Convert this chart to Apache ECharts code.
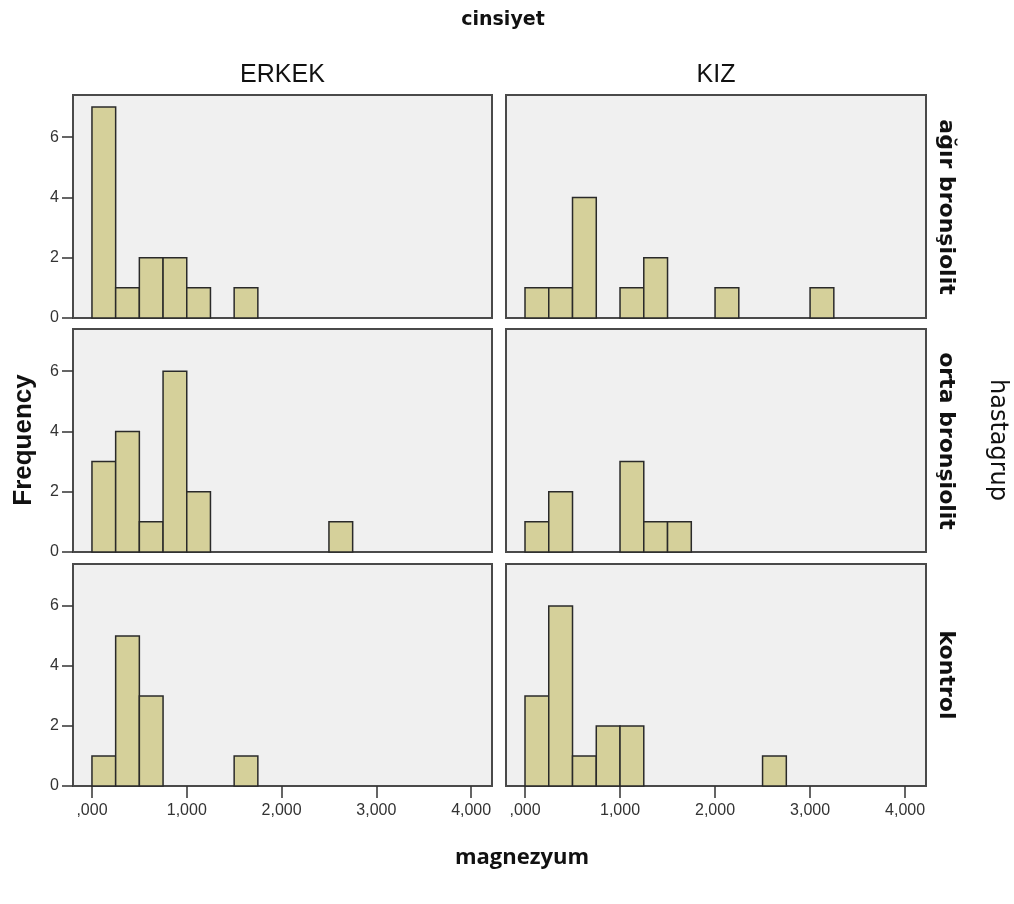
<!DOCTYPE html>
<html>
<head>
<meta charset="utf-8">
<script src="https://cdn.jsdelivr.net/npm/echarts@6/dist/echarts.min.js"></script>
<style>
html,body{margin:0;padding:0;background:#fff;}
#chart{width:1014px;height:904px;}
</style>
</head>
<body>
<div id="chart"></div>
<script>
// ---- data ----
const colCategories = ['ERKEK', 'KIZ'];
const rowCategories = ['ağır bronşiolit', 'orta bronşiolit', 'kontrol'];
const binWidth = 0.25;
const binStarts = [0, 0.25, 0.5, 0.75, 1.0, 1.25, 1.5, 1.75, 2.0, 2.25, 2.5, 2.75, 3.0];
const erkekAgir    = [7, 1, 2, 2, 1, 0, 1, 0, 0, 0, 0, 0, 0];
const kizAgir      = [1, 1, 4, 0, 1, 2, 0, 0, 1, 0, 0, 0, 1];
const erkekOrta    = [3, 4, 1, 6, 2, 0, 0, 0, 0, 0, 1, 0, 0];
const kizOrta      = [1, 2, 0, 0, 3, 1, 1, 0, 0, 0, 0, 0, 0];
const erkekKontrol = [1, 5, 3, 0, 0, 0, 1, 0, 0, 0, 0, 0, 0];
const kizKontrol   = [3, 6, 1, 2, 2, 0, 0, 0, 0, 0, 1, 0, 0];
const xTickValues = [0, 1, 2, 3, 4];
const xTickLabels = [',000', '1,000', '2,000', '3,000', '4,000'];
const yTickValues = [0, 2, 4, 6];

const panels = [
  [erkekAgir, kizAgir],
  [erkekOrta, kizOrta],
  [erkekKontrol, kizKontrol]
];

// ---- layout ----
const colLeft = [73, 506];
const colWidth = [419, 420];
const rowTop = [95, 329, 564];
const rowHeight = [223, 223, 222];

const grids = [], xAxes = [], yAxes = [], series = [];
const barFill = '#d5d09a';
const barStroke = '#2a2a2a';
const tickFont = '"Liberation Sans", Arial, sans-serif';

for (let r = 0; r < 3; r++) {
  for (let c = 0; c < 2; c++) {
    const idx = grids.length;
    grids.push({
      left: colLeft[c], top: rowTop[r], width: colWidth[c], height: rowHeight[r],
      show: true, backgroundColor: '#f0f0f0', borderColor: '#4a4a4a', borderWidth: 2
    });
    const isBottom = r === 2;
    xAxes.push({
      type: 'value', gridIndex: idx, min: -0.2, max: 4.22,
      splitLine: { show: false },
      axisLine: { show: false, onZero: false },
      axisTick: { show: isBottom, length: 12, customValues: xTickValues, lineStyle: { color: '#333', width: 1.5 } },
      axisLabel: {
        show: isBottom, customValues: xTickValues, margin: 17,
        fontFamily: tickFont, fontSize: 16, color: '#333',
        formatter: function (v) { const i = xTickValues.indexOf(v); return i >= 0 ? xTickLabels[i] : ''; }
      }
    });
    const isLeft = c === 0;
    yAxes.push({
      type: 'value', gridIndex: idx, min: 0, max: 7.4,
      splitLine: { show: false },
      axisLine: { show: false, onZero: false },
      axisTick: { show: isLeft, length: 11, customValues: yTickValues, lineStyle: { color: '#333', width: 1.5 } },
      axisLabel: {
        show: isLeft, customValues: yTickValues, margin: 14,
        fontFamily: tickFont, fontSize: 16, color: '#333'
      }
    });
    const counts = panels[r][c];
    const data = [];
    for (let i = 0; i < binStarts.length; i++) {
      if (counts[i] > 0) data.push([binStarts[i], counts[i]]);
    }
    series.push({
      type: 'custom', xAxisIndex: idx, yAxisIndex: idx, data: data,
      renderItem: function (params, api) {
        const x0 = api.value(0), y = api.value(1);
        const p0 = api.coord([x0, 0]);
        const p1 = api.coord([x0 + binWidth, y]);
        return {
          type: 'rect',
          shape: { x: p0[0], y: p1[1], width: p1[0] - p0[0], height: p0[1] - p1[1] },
          style: { fill: barFill, stroke: barStroke, lineWidth: 1.5 }
        };
      }
    });
  }
}

const graphics = [
  { type: 'text', x: 503, y: 20, style: { text: 'cinsiyet', font: 'bold 19px "DejaVu Sans", sans-serif', fill: '#111', align: 'center', verticalAlign: 'middle' } },
  { type: 'text', x: colLeft[0] + colWidth[0] / 2, y: 75, style: { text: colCategories[0], font: '25px "Liberation Sans", Arial, sans-serif', fill: '#111', align: 'center', verticalAlign: 'middle' } },
  { type: 'text', x: colLeft[1] + colWidth[1] / 2, y: 75, style: { text: colCategories[1], font: '25px "Liberation Sans", Arial, sans-serif', fill: '#111', align: 'center', verticalAlign: 'middle' } },
  { type: 'text', x: 24, y: 440, rotation: Math.PI / 2, style: { text: 'Frequency', font: 'bold 26px "Liberation Sans", Arial, sans-serif', fill: '#111', align: 'center', verticalAlign: 'middle' } },
  { type: 'text', x: 997, y: 440, rotation: -Math.PI / 2, style: { text: 'hastagrup', font: '24px "DejaVu Sans", sans-serif', fill: '#111', align: 'center', verticalAlign: 'middle' } },
  { type: 'text', x: 522, y: 858, style: { text: 'magnezyum', font: 'bold 22px "Open Sans", sans-serif', fill: '#111', align: 'center', verticalAlign: 'middle' } }
];
const rowCenters = [207, 441, 675];
for (let r = 0; r < 3; r++) {
  graphics.push({ type: 'text', x: 946, y: rowCenters[r], rotation: -Math.PI / 2,
    style: { text: rowCategories[r], font: 'bold 22px "DejaVu Sans", sans-serif', fill: '#111', align: 'center', verticalAlign: 'middle' } });
}

const chart = echarts.init(document.getElementById('chart'), null, { renderer: 'canvas' });
chart.setOption({
  backgroundColor: '#ffffff',
  animation: false,
  grid: grids,
  xAxis: xAxes,
  yAxis: yAxes,
  series: series,
  graphic: graphics
});
</script>
</body>
</html>
